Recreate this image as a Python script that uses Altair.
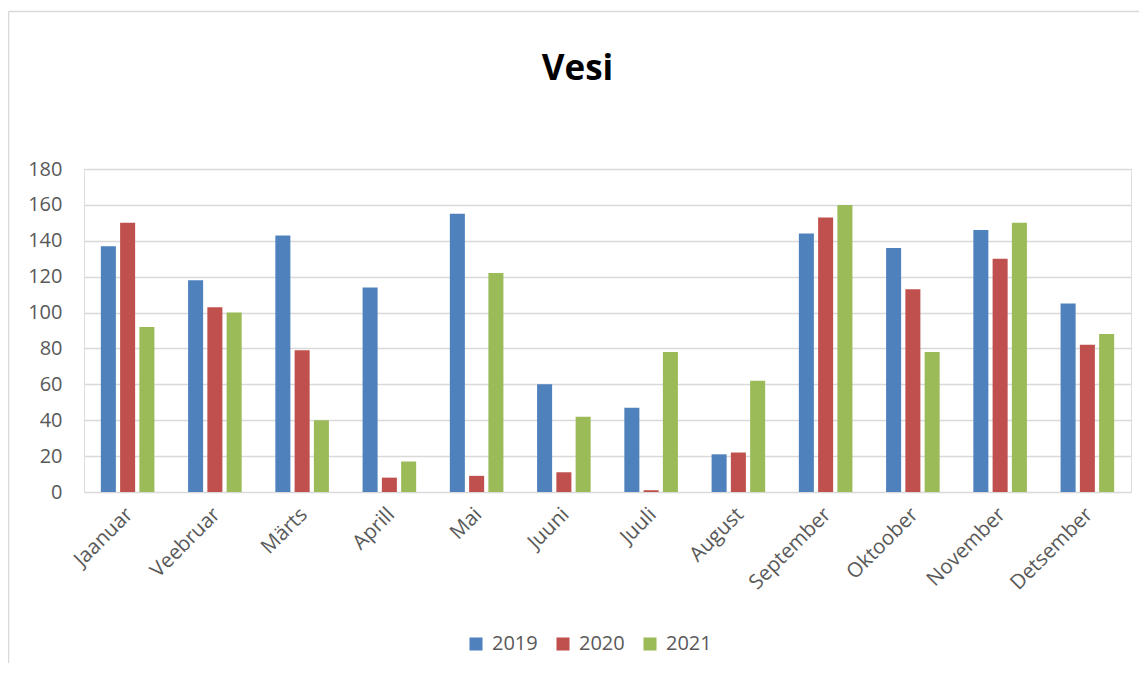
import altair as alt
import pandas as pd

months = ["Jaanuar", "Veebruar", "Märts", "Aprill", "Mai", "Juuni", "Juuli",
          "August", "September", "Oktoober", "November", "Detsember"]
years = ["2019", "2020", "2021"]
v2019 = [137, 118, 143, 114, 155, 60, 47, 21, 144, 136, 146, 105]
v2020 = [150, 103, 79, 8, 9, 11, 1, 22, 153, 113, 130, 82]
v2021 = [92, 100, 40, 17, 122, 42, 78, 62, 160, 78, 150, 88]
colors = ["#4F81BD", "#C0504D", "#9BBB59"]

rows = []
for yr, vals in zip(years, [v2019, v2020, v2021]):
    for m, v in zip(months, vals):
        rows.append({"Kuu": m, "Aasta": yr, "Väärtus": v})
df = pd.DataFrame(rows)

PAD_L, PAD_T, W, H = 76, 161, 1047, 323
FONT = "Open Sans"

bars = alt.Chart(df).mark_bar().encode(
    x=alt.X("Kuu:N", sort=months, title=None,
            scale=alt.Scale(paddingInner=0.386, paddingOuter=0.193),
            axis=alt.Axis(labelAngle=-45, labelAlign="right", labelBaseline="top",
                          labelPadding=12, labelOffset=-5, ticks=False, domain=False,
                          grid=False, labelFontSize=20.5, labelColor="#595959",
                          labelFont=FONT)),
    xOffset=alt.XOffset("Aasta:N", sort=years, scale=alt.Scale(paddingInner=0.22)),
    y=alt.Y("Väärtus:Q", title=None,
            scale=alt.Scale(domain=[0, 180], nice=False),
            axis=alt.Axis(values=list(range(0, 181, 20)), ticks=False, domain=False,
                          labelPadding=22, labelFontSize=20, labelColor="#595959",
                          labelFont=FONT, gridColor="#d9d9d9", gridWidth=1.3)),
    color=alt.Color("Aasta:N", sort=years, title=None,
                    scale=alt.Scale(domain=years, range=colors),
                    legend=alt.Legend(orient="none", direction="horizontal",
                                      legendX=382, legendY=465,
                                      symbolType="square", symbolSize=170,
                                      symbolStrokeWidth=0, labelFontSize=20,
                                      labelColor="#595959", labelFont=FONT,
                                      labelOffset=6, columnPadding=15)),
)

frame_data = alt.Data(values=[{"k": 1}])
left_line = alt.Chart(frame_data).mark_rule(color="#d9d9d9", strokeWidth=1.5).encode(
    x=alt.value(0.5 - PAD_L), y=alt.value(3.5 - PAD_T), y2=alt.value(H + 200))
top_line = alt.Chart(frame_data).mark_rule(color="#d9d9d9", strokeWidth=1.5).encode(
    x=alt.value(0.5 - PAD_L), x2=alt.value(W + 60), y=alt.value(3.5 - PAD_T))

chart = alt.layer(bars, left_line, top_line).properties(
    width=W, height=H,
    title=alt.TitleParams("Vesi", font=FONT, fontSize=35, fontWeight="bold",
                          color="#000000", anchor="middle", frame="group",
                          baseline="alphabetic", offset=-104, dx=-30),
    padding={"left": PAD_L, "top": PAD_T, "right": 8, "bottom": 171},
    autosize=alt.AutoSizeParams(type="none"),
).configure_view(stroke=None).configure(background="white")

chart.save("out.html", embed_options={"renderer": "svg", "actions": False})
